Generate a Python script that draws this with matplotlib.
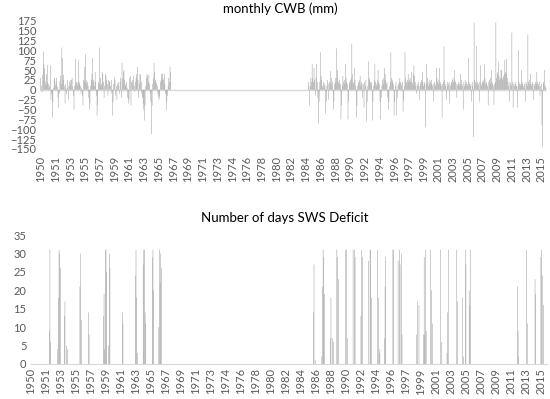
import numpy as np
import matplotlib.pyplot as plt

# monthly CWB (mm), Jan..Dec, one line per year
cwb_1950_1966 = [
    30, 10, -6, 38, 97, 65, 55, 22, 12, 40, 18, 62,        # 1950
    15, 5, 10, 62, -25, -12, -70, -30, 5, 28, 30, 12,      # 1951
    20, 30, 8, -20, -45, -10, 22, 35, 15, 107, 80, 25,     # 1952
    38, 10, -35, 15, -12, 5, 25, -25, 10, 20, 25, 12,      # 1953
    25, 30, 8, -15, -50, 10, 78, 15, 20, 10, 18, 75,       # 1954
    20, 15, 10, -10, 5, -15, -40, 25, 58, 20, 90, 25,      # 1955
    15, 20, 10, -20, -50, -35, 10, 25, 40, 80, 20, 25,     # 1956
    10, 45, 20, -15, -65, -40, 20, 15, 107, 30, 10, 15,    # 1957
    45, 40, 20, -20, 10, 40, 35, 25, 15, -15, 25, 22,      # 1958
    20, 10, -10, 25, -65, -30, 15, 32, 25, -15, 10, -25,   # 1959
    15, 20, 10, -10, 20, 30, -20, 68, 28, 45, 50, 25,      # 1960
    10, 15, 20, 5, -20, -35, -25, 30, 35, -40, 20, 25,     # 1961
    15, 35, 10, -5, 20, 30, 40, 58, 25, -20, 15, 40,       # 1962
    38, 20, -10, -20, -35, -50, -78, -40, 10, 30, 40, 35,  # 1963
    20, 38, 15, -10, -30, -112, -40, 15, 30, 68, 45, 25,   # 1964
    20, 15, 10, -10, -20, -25, -15, 20, 25, 40, 42, 30,    # 1965
    25, 40, 15, -10, -52, -30, -15, 10, 30, 20, 58, 45,    # 1966
]

cwb_1984_2015 = [
    0, 0, 0, 0, 0, 0, 0, 0, 0, 0, 20, 10,                  # 1984
    -40, 10, 30, 20, 65, 30, 20, 55, 25, -15, 30, 65,      # 1985
    20, -20, -85, -30, 20, 95, 35, 25, 10, 5, 20, 15,      # 1986
    10, -60, -30, 10, 25, 15, -25, 20, 15, 47, 30, 10,     # 1987
    20, -50, -30, 15, 30, 20, 105, 30, 50, 20, 15, 25,     # 1988
    15, -75, -40, 10, 35, 20, 15, 25, 65, 30, 20, 15,      # 1989
    -75, -30, 20, 15, 25, 30, 117, 40, 20, 15, 55, 25,     # 1990
    10, -70, -40, 10, 20, 15, 25, 35, 10, 20, 15, -20,     # 1991
    15, -45, 20, 10, 25, -80, -30, 10, 72, 30, 25, 20,     # 1992
    20, 15, -78, -30, 10, 25, 65, 20, 15, 10, 25, 50,      # 1993
    20, 15, -30, -75, -20, 10, 25, 15, 30, 55, 40, 25,     # 1994
    15, 20, -20, -50, -30, 10, 20, 95, 30, 25, 20, 15,     # 1995
    -65, -30, 10, 20, -65, -20, 10, 15, 20, 30, 20, 15,    # 1996
    10, 20, -55, -30, 10, 95, 30, 20, 15, 25, 40, 20,      # 1997
    25, 30, 20, 45, 20, 15, 40, 60, 35, 20, 10, -10,       # 1998
    15, 10, 20, 10, -25, 15, 20, 25, 45, 20, 10, 15,       # 1999
    20, -95, 15, 65, 30, 20, 10, 15, 25, 20, 25, 15,       # 2000
    10, 15, -30, 20, 15, 10, 55, 30, 20, 15, 25, 55,       # 2001
    20, 15, 10, -70, 15, 20, 110, 25, 10, 15, -25, 20,     # 2002
    10, 15, 20, -35, 10, 15, 20, 25, 30, 20, 50, 25,       # 2003
    20, 15, -20, 10, 15, 20, 15, 10, 40, 25, 15, 10,       # 2004
    -50, 20, 10, 25, 15, 20, 15, 10, 80, 20, 15, 10,       # 2005
    15, -30, 20, 10, -120, 170, 25, 20, 15, 110, 20, 10,   # 2006
    15, -30, 20, 62, 15, 10, 20, 25, 20, 65, 30, 15,       # 2007
    20, 15, 10, -40, 20, 25, 15, 30, 50, 20, 15, 10,       # 2008
    -38, 15, 20, 170, 30, 40, 45, 70, 35, 25, 30, 50,      # 2009
    50, 25, 30, 35, 40, 75, 45, 40, 78, 30, 20, 10,        # 2010
    -30, 20, 15, 10, 145, 20, -45, 15, 10, 20, 15, 10,     # 2011
    10, -45, 100, 20, 15, 10, 15, 50, 20, 15, 10, 5,       # 2012
    15, -30, 20, 15, 10, 140, 20, 25, 15, 40, 15, 10,      # 2013
    20, 15, -25, 10, 15, 20, 15, 45, 20, 15, 10, 20,       # 2014
    -15, 10, 15, -90, -145, 20, 15, 50, 10, 5, 0, 0,       # 2015
]

# number of days with SWS deficit per month
days_1950_1966 = [
    0, 0, 0, 0, 0, 0, 0, 0, 0, 0, 0, 0,          # 1950
    0, 0, 0, 0, 0, 0, 0, 0, 0, 0, 0, 0,          # 1951
    0, 0, 0, 0, 9, 31, 6, 0, 0, 0, 0, 0,         # 1952
    0, 0, 0, 0, 0, 4, 18, 31, 30, 26, 0, 0,      # 1953
    0, 0, 0, 13, 17, 0, 5, 0, 4, 0, 0, 0,        # 1954
    0, 0, 0, 0, 0, 0, 0, 0, 0, 0, 0, 0,          # 1955
    0, 0, 0, 21, 30, 12, 0, 0, 0, 0, 0, 0,       # 1956
    0, 0, 0, 0, 14, 8, 0, 0, 0, 0, 0, 0,         # 1957
    0, 0, 0, 0, 0, 0, 0, 0, 0, 0, 0, 0,          # 1958
    0, 0, 0, 13, 19, 4, 31, 31, 25, 0, 0, 5,     # 1959
    30, 26, 0, 0, 0, 0, 0, 0, 0, 0, 0, 0,        # 1960
    0, 0, 0, 0, 0, 0, 0, 0, 14, 11, 0, 0,        # 1961
    0, 0, 0, 0, 0, 0, 0, 0, 0, 0, 0, 0,          # 1962
    0, 0, 0, 0, 24, 31, 18, 3, 0, 0, 0, 0,       # 1963
    0, 0, 0, 0, 27, 31, 31, 14, 11, 0, 0, 0,     # 1964
    0, 0, 0, 0, 0, 0, 29, 31, 20, 0, 0, 0,       # 1965
    0, 0, 0, 0, 10, 31, 22, 30, 26, 0, 0, 0,     # 1966
]

days_1984_2015 = [
    0, 0, 0, 0, 0, 0, 0, 0, 0, 0, 0, 0,          # 1984
    0, 0, 0, 0, 0, 0, 0, 0, 0, 0, 0, 0,          # 1985
    0, 14, 27, 0, 1, 0, 0, 0, 0, 0, 0, 0,        # 1986
    0, 0, 2, 21, 31, 29, 19, 0, 0, 0, 0, 0,      # 1987
    0, 0, 0, 7, 18, 0, 7, 0, 6, 0, 0, 0,         # 1988
    0, 31, 29, 0, 23, 0, 0, 0, 0, 0, 0, 0,       # 1989
    0, 0, 31, 0, 31, 7, 0, 0, 0, 0, 0, 0,        # 1990
    0, 0, 31, 0, 31, 29, 0, 0, 0, 0, 0, 0,       # 1991
    0, 0, 13, 31, 29, 0, 0, 0, 0, 0, 0, 0,       # 1992
    0, 0, 28, 0, 31, 31, 18, 0, 0, 0, 0, 0,      # 1993
    0, 0, 0, 31, 0, 18, 3, 4, 0, 0, 0, 0,        # 1994
    0, 0, 7, 21, 29, 0, 0, 0, 0, 0, 0, 0,        # 1995
    0, 0, 0, 31, 31, 0, 0, 0, 0, 0, 0, 28,       # 1996
    0, 31, 27, 0, 30, 8, 0, 0, 0, 0, 0, 0,       # 1997
    0, 0, 0, 0, 0, 0, 0, 0, 0, 0, 0, 0,          # 1998
    0, 0, 0, 8, 0, 17, 0, 16, 0, 0, 0, 0,        # 1999
    0, 0, 8, 29, 8, 31, 9, 0, 0, 0, 0, 0,        # 2000
    0, 31, 20, 0, 11, 0, 0, 0, 0, 0, 0, 0,       # 2001
    0, 0, 0, 0, 31, 0, 6, 0, 0, 0, 0, 0,         # 2002
    0, 0, 3, 14, 31, 0, 0, 0, 0, 0, 0, 0,        # 2003
    0, 0, 0, 0, 0, 31, 17, 0, 0, 0, 0, 0,        # 2004
    0, 0, 18, 2, 0, 0, 31, 27, 0, 0, 0, 0,       # 2005
    20, 16, 31, 0, 0, 0, 0, 0, 0, 0, 0, 0,       # 2006
    0, 0, 0, 0, 0, 0, 0, 0, 0, 0, 0, 0,          # 2007
    0, 0, 0, 0, 0, 0, 0, 0, 0, 0, 0, 0,          # 2008
    0, 0, 0, 0, 0, 0, 0, 0, 0, 0, 0, 0,          # 2009
    0, 0, 0, 0, 0, 0, 0, 0, 0, 0, 0, 0,          # 2010
    0, 0, 0, 0, 0, 0, 0, 0, 0, 0, 0, 0,          # 2011
    0, 0, 21, 9, 2, 0, 0, 0, 0, 0, 0, 0,         # 2012
    0, 0, 0, 0, 31, 11, 0, 0, 0, 0, 0, 0,        # 2013
    0, 0, 0, 0, 0, 23, 19, 0, 0, 0, 0, 0,        # 2014
    0, 0, 29, 31, 24, 0, 16, 0, 0, 0, 0, 0,      # 2015
]

# 1967-1983 has no values, drawn flat at zero
gap = [0] * (12 * 17)
cwb = np.array(cwb_1950_1966 + gap + cwb_1984_2015)
days = np.array(days_1950_1966 + gap + days_1984_2015)
x = np.arange(len(cwb))

# excel put a year label every 23 months
tick_pos = np.arange(0, len(cwb), 23)
tick_lab = [str(1950 + i // 12) for i in tick_pos]

plt.rcParams['font.family'] = 'Lato'
grey_txt = '#595959'
bar_col = '#999999'

fig = plt.figure(figsize=(5.5, 3.99), dpi=100)

# top chart
ax1 = fig.add_axes([40.4 / 550, 1 - 149 / 399, 507 / 550, 128.3 / 399])
ax1.bar(x, cwb, width=0.75, color=bar_col, linewidth=0, snap=False)
ax1.axhline(0, color='#d9d9d9', linewidth=1, zorder=0)
ax1.set_xlim(-0.5, len(cwb) - 0.5)
ax1.set_ylim(-150, 175)
ax1.set_yticks(np.arange(-150, 176, 25))
ax1.set_xticks(tick_pos)
ax1.set_xticklabels(tick_lab, rotation=90)
for s in ax1.spines.values():
    s.set_visible(False)
ax1.tick_params(length=0, labelsize=8, colors=grey_txt, pad=3)
ax1.tick_params(axis='x', pad=5)

# bottom chart
ax2 = fig.add_axes([30.7 / 550, 1 - 364 / 399, 516.4 / 550, 129 / 399])
ax2.bar(x, days, width=0.75, color=bar_col, linewidth=0, snap=False)
ax2.set_xlim(-0.5, len(days) - 0.5)
ax2.set_ylim(0, 35)
ax2.set_yticks(np.arange(0, 36, 5))
ax2.set_xticks(tick_pos)
ax2.set_xticklabels(tick_lab, rotation=90)
for s in ['top', 'right', 'left']:
    ax2.spines[s].set_visible(False)
ax2.spines['bottom'].set_color('#d9d9d9')
ax2.tick_params(length=0, labelsize=8, colors=grey_txt, pad=3)

fig.text(280 / 550, 1 - 9 / 399, 'monthly CWB (mm)', ha='center', va='center', fontsize=9.5)
fig.text(285 / 550, 1 - 218 / 399, 'Number of days SWS Deficit', ha='center', va='center', fontsize=9.5)

plt.savefig('out.png', dpi=100)
